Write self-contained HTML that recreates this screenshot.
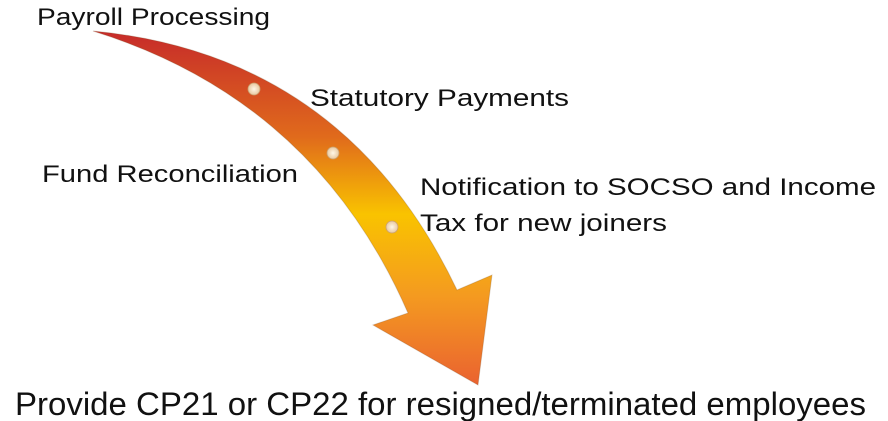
<!DOCTYPE html>
<html><head><meta charset="utf-8"><style>
html,body{margin:0;padding:0;background:#fff;width:888px;height:421px;overflow:hidden}
svg text{font-family:"Liberation Sans",sans-serif;fill:#111}
</style></head><body>
<svg width="888" height="421" viewBox="0 0 888 421">
<defs>
<linearGradient id="g" x1="0" y1="30" x2="0" y2="385" gradientUnits="userSpaceOnUse">
<stop offset="0" stop-color="#c62a2a"/>
<stop offset="0.3" stop-color="#e06a1c"/>
<stop offset="0.52" stop-color="#f9c300"/>
<stop offset="0.75" stop-color="#f49a20"/>
<stop offset="1" stop-color="#ea6230"/>
</linearGradient>
<radialGradient id="d"><stop offset="0" stop-color="#fff8e8"/><stop offset="1" stop-color="#e8c8a0"/></radialGradient>
</defs>
<path d="M93,31 Q345,55 457,290 L492,275 L478,385 L373,325 L408,313 Q315,100 93,31 Z" fill="url(#g)" stroke="rgba(120,80,40,0.25)" stroke-width="1"/>
<circle cx="254" cy="89" r="6" fill="url(#d)" stroke="#c9a070" stroke-width="0.8"/>
<circle cx="333" cy="153" r="6" fill="url(#d)" stroke="#c9a070" stroke-width="0.8"/>
<circle cx="392" cy="227" r="6" fill="url(#d)" stroke="#c9a070" stroke-width="0.8"/>
<text x="37" y="25" font-size="24" textLength="233" lengthAdjust="spacingAndGlyphs">Payroll Processing</text>
<text x="310" y="106" font-size="24" textLength="259" lengthAdjust="spacingAndGlyphs">Statutory Payments</text>
<text x="42" y="182" font-size="24" textLength="256" lengthAdjust="spacingAndGlyphs">Fund Reconciliation</text>
<text x="420" y="195" font-size="24" textLength="456" lengthAdjust="spacingAndGlyphs">Notification to SOCSO and Income</text>
<text x="420" y="231" font-size="24" textLength="247" lengthAdjust="spacingAndGlyphs">Tax for new joiners</text>
<text x="15" y="415" font-size="32" textLength="851" lengthAdjust="spacingAndGlyphs">Provide CP21 or CP22 for resigned/terminated employees</text>
</svg>
</body></html>
